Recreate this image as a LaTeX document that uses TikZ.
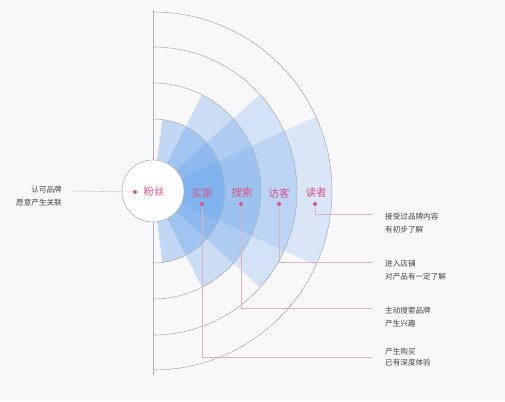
\documentclass[tikz,border=0pt]{standalone}
\usepackage{fontspec}
\newfontfamily\cjk{Noto Sans CJK SC}
\usetikzlibrary{shapes.geometric}
\definecolor{bgc}{RGB}{248,248,250}
\definecolor{gridc}{RGB}{178,178,188}
\definecolor{secc}{RGB}{66,142,232}
\definecolor{pinkc}{RGB}{222,82,138}
\definecolor{linkc}{RGB}{222,178,194}
\definecolor{txtc}{RGB}{70,70,75}
\tikzset{
  sec/.style={fill=secc, fill opacity=#1},
  gridline/.style={draw=gridc, line width=0.6pt},
  mk/.style={diamond, fill=pinkc, inner sep=0pt, minimum size=5pt},
  lab/.style={font=\cjk\fontsize{10.5}{12}\selectfont, text=pinkc, inner sep=0pt},
  desc/.style={font=\cjk\fontsize{7.6}{9}\selectfont, text=txtc, inner sep=0pt},
  conn/.style={draw=linkc, line width=0.6pt},
}
\begin{document}
\begin{tikzpicture}[x=1pt,y=-1pt]
\useasboundingbox (0,0) rectangle (505,401);
\fill[bgc] (0,0) rectangle (505,401);
\coordinate (c) at (153,191);
% sectors
\fill[sec=0.16] (c) -- ++(24.5:179) arc[start angle=24.5, end angle=-24.5, radius=179] -- cycle;
\fill[sec=0.2] (c) -- ++(42:144) arc[start angle=42, end angle=-42, radius=144] -- cycle;
\fill[sec=0.25] (c) -- ++(63:108) arc[start angle=63, end angle=-63, radius=108] -- cycle;
\fill[sec=0.3] (c) -- ++(82.5:72) arc[start angle=82.5, end angle=-82.5, radius=72] -- cycle;
% grid arcs
\foreach \r in {72,108,144,179}{
  \draw[gridline] (c) ++(90:\r) arc[start angle=90, end angle=-90, radius=\r];
}
\draw[gridline] (153,10) -- (153,375);
% central circle
\node[circle, draw=gridc, fill=white, line width=0.6pt, minimum size=62pt, inner sep=0pt] (hub) at (c) {};
% labels
\node[lab] (l0) at (154,192) {粉丝};
\node[lab] (l1) at (202,193) {买家};
\node[lab] (l2) at (242,193) {搜索};
\node[lab] (l3) at (279,193) {访客};
\node[lab] (l4) at (316,193) {读者};
% markers
\node[mk] (d0) at (135,192) {};
\node[mk] (d1) at (202,204) {};
\node[mk] (d2) at (241,204) {};
\node[mk] (d3) at (279,204) {};
\node[mk] (d4) at (315,204) {};
% connector ends
\coordinate (e0) at (72,191);
\coordinate (e1) at (372,357);
\coordinate (e2) at (372,308);
\coordinate (e3) at (372,262);
\coordinate (e4) at (372,214);
\draw[conn, dash pattern=on 1.5pt off 1pt] (e0) -- (d0.west);
\draw[conn] (d1.south) |- (e1);
\draw[conn] (d2.south) |- (e2);
\draw[conn] (d3.south) |- (e3);
\draw[conn] (d4.south) |- (e4);
% descriptions
\node[desc, anchor=east] (a1) at (62,190) {认可品牌};
\node[desc, anchor=east] (a2) at (62,203) {愿意产生关联};
\node[desc, anchor=west] (b1) at (385,217) {接受过品牌内容};
\node[desc, anchor=west] (b2) at (385,230) {有初步了解};
\node[desc, anchor=west] (c1) at (385,264) {进入店铺};
\node[desc, anchor=west] (c2) at (385,277) {对产品有一定了解};
\node[desc, anchor=west] (f1) at (385,311) {主动搜索品牌};
\node[desc, anchor=west] (f2) at (385,324) {产生兴趣};
\node[desc, anchor=west] (g1) at (385,352) {产生购买};
\node[desc, anchor=west] (g2) at (385,363) {已有深度体验};
\end{tikzpicture}
\end{document}
